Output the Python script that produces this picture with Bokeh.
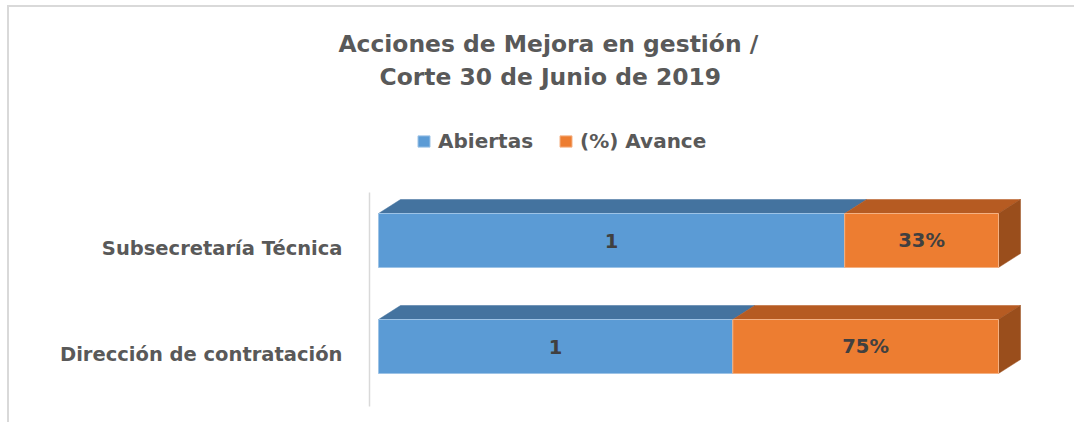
from bokeh.plotting import figure
from bokeh.models import (Range1d, FixedTicker, Legend, LegendItem, Title,
                          ColumnDataSource)
from bokeh.core.properties import value
from bokeh.embed import file_html
from bokeh.resources import INLINE

# ---- data ----
categories = ["Dirección de contratación", "Subsecretaría Técnica"]
abiertas = [1, 1]
avance = [0.75, 0.33]
series_names = ["Abiertas", "(%) Avance"]
title_lines = ["Acciones de Mejora en gestión /", "Corte 30 de Junio de 2019"]

# ---- styles ----
FONT = "DejaVu Sans"
BLUE, BLUE_TOP, BLUE_EDGE = "#5B9BD5", "#44739F", "#9DC3E6"
ORANGE, ORANGE_TOP, ORANGE_SIDE, ORANGE_EDGE = "#ED7D31", "#B65B22", "#9A4E1C", "#F4B183"
GREY = "#595959"

PX_X = 620.0   # pixels per unit (100 %) on x
PX_Y = 106.0   # pixels per category step on y
DX = 22 / PX_X
DY = 14 / PX_Y
BAR_H = 54 / PX_Y
BAR_OFF = 8 / PX_Y

FRAME_W = 671
p = figure(width=1067, height=417, output_backend="svg", toolbar_location=None,
           min_border_left=360, min_border_right=36, min_border_top=85,
           min_border_bottom=18)
p.x_range = Range1d(-9 / PX_X, (FRAME_W - 9) / PX_X)
p.y_range = Range1d(-(52 / PX_Y), 1 + 156 / PX_Y)
p.outline_line_color = None
p.grid.visible = False
p.xaxis.visible = False
p.background_fill_color = "white"
p.border_fill_color = "white"
p.styles = {"margin-left": "7px", "margin-top": "5px",
            "border-top": "2px solid #d9d9d9", "border-left": "2px solid #d9d9d9"}

pos = list(range(len(categories)))
p.yaxis.ticker = FixedTicker(ticks=pos)
p.yaxis.major_label_overrides = {i: c for i, c in enumerate(categories)}
p.yaxis.bounds = (-(52 / PX_Y), 1 + 56 / PX_Y)
p.yaxis.axis_line_color = "#d9d9d9"
p.yaxis.axis_line_width = 1.5
p.yaxis.major_tick_line_color = None
p.yaxis.minor_tick_line_color = None
p.yaxis.major_tick_out = 0
p.yaxis.major_tick_in = 0
p.yaxis.major_label_standoff = 27
p.yaxis.major_label_text_font = FONT
p.yaxis.major_label_text_font_style = "bold"
p.yaxis.major_label_text_font_size = "19.5px"
p.yaxis.major_label_text_color = GREY

# ---- geometry from data (100 % stacked) ----
totals = [a + b for a, b in zip(abiertas, avance)]
blue_r = [a / t for a, t in zip(abiertas, totals)]
orange_r = [1.0 for _ in totals]
blue_l = [0.0 for _ in totals]
orange_l = blue_r
yc = [y + BAR_OFF for y in pos]

def top_face(lefts, rights):
    xs, ys = [], []
    for l, r, y in zip(lefts, rights, yc):
        t = y + BAR_H / 2
        xs.append([l, l + DX, r + DX, r])
        ys.append([t, t + DY, t + DY, t])
    return xs, ys

bx, by = top_face(blue_l, blue_r)
ox, oy = top_face(orange_l, orange_r)
p.patches(bx, by, fill_color=BLUE_TOP, line_color=BLUE_TOP, line_width=0.5)
p.patches(ox, oy, fill_color=ORANGE_TOP, line_color=ORANGE_TOP, line_width=0.5)

sx, sy = [], []
for r, y in zip(orange_r, yc):
    t, b = y + BAR_H / 2, y - BAR_H / 2
    sx.append([r, r, r + DX, r + DX])
    sy.append([b, t, t + DY, b + DY])
p.patches(sx, sy, fill_color=ORANGE_SIDE, line_color=ORANGE_SIDE, line_width=0.5)

rb = p.hbar(y=yc, left=blue_l, right=blue_r, height=BAR_H,
            fill_color=BLUE, line_color=BLUE_EDGE, line_width=1)
ro = p.hbar(y=yc, left=orange_l, right=orange_r, height=BAR_H,
            fill_color=ORANGE, line_color=ORANGE_EDGE, line_width=1)

# ---- data labels ----
lab_src = ColumnDataSource(dict(
    x=[(l + r) / 2 for l, r in zip(blue_l, blue_r)] + [(l + r) / 2 for l, r in zip(orange_l, orange_r)],
    y=yc + yc,
    t=[str(a) for a in abiertas] + [f"{round(v * 100)}%" for v in avance],
))
p.text(x="x", y="y", text="t", source=lab_src, text_align="center",
       text_baseline="middle", text_font=value(FONT), text_font_style="bold",
       text_font_size="19.5px", text_color="#404040")

# ---- legend ----
legend = Legend(items=[LegendItem(label=series_names[0], renderers=[rb]),
                       LegendItem(label=series_names[1], renderers=[ro])],
                orientation="horizontal", location=(47, 253),
                glyph_width=15, glyph_height=14, label_standoff=7, spacing=25,
                padding=0, margin=0, border_line_color=None,
                background_fill_alpha=0, label_text_font=FONT,
                label_text_font_style="bold", label_text_font_size="20px",
                label_text_color=GREY, label_height=20)
p.add_layout(legend, "center")

# ---- title (two lines) ----
p.add_layout(Title(text=title_lines[1], align="left", offset=10,
                   text_font=FONT, text_font_style="bold",
                   text_font_size="23.4px", text_color=GREY, standoff=4), "above")
p.add_layout(Title(text=title_lines[0], align="left", offset=-31,
                   text_font=FONT, text_font_style="bold",
                   text_font_size="23.4px", text_color=GREY, standoff=2), "above")

open("out.html", "w").write(file_html(p, INLINE))
